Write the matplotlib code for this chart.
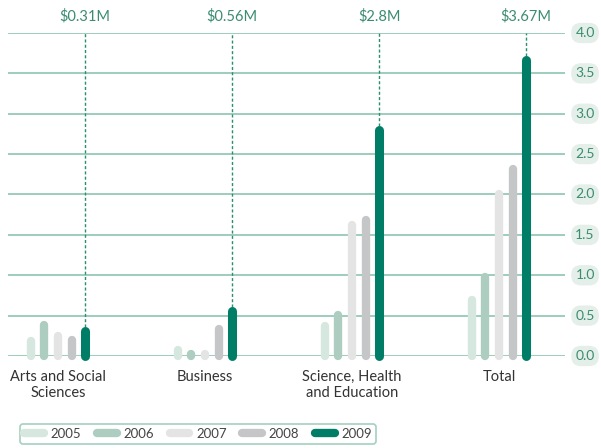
import numpy as np
import matplotlib
matplotlib.use("Agg")
import matplotlib.pyplot as plt
from matplotlib.lines import Line2D
from matplotlib import transforms

plt.rcParams['font.family'] = ['Lato', 'DejaVu Sans']

categories = ["Arts and Social\nSciences", "Business", "Science, Health\nand Education", "Total"]
years = ["2005", "2006", "2007", "2008", "2009"]
values = {
    "2005": [0.19, 0.07, 0.37, 0.69],
    "2006": [0.39, 0.02, 0.51, 0.98],
    "2007": [0.25, 0.03, 1.62, 2.00],
    "2008": [0.20, 0.34, 1.69, 2.31],
    "2009": [0.31, 0.56, 2.80, 3.67],
}
top_labels = ["$0.31M", "$0.56M", "$2.8M", "$3.67M"]
y_ticks = [0.0, 0.5, 1.0, 1.5, 2.0, 2.5, 3.0, 3.5, 4.0]

colors = ["#d5e7df", "#adcdc0", "#e3e4e3", "#c5c6c7", "#007d66"]
grid_col = "#8ec5b0"
green_txt = "#3b8c70"

fig = plt.figure(figsize=(6.01, 4.48), dpi=100)
ax = fig.add_axes([8 / 601, 92 / 448, 557 / 601, 323 / 448])
ax.set_xlim(-0.34, 3.449)
ax.set_ylim(0, 4.0)
ax.axis("off")

# grid lines and right-hand tick labels in pills
trans = transforms.blended_transform_factory(ax.transAxes, ax.transData)
for t in y_ticks:
    ax.axhline(t, color=grid_col, lw=1.2, zorder=1)
    ax.text(1.036, t, f"{t:.1f}", transform=trans, ha="center", va="center",
            fontsize=10, color=green_txt,
            bbox=dict(boxstyle="round,pad=0.3,rounding_size=0.7",
                      fc="#e4efea", ec="none"))

step = 0.0925
x = np.arange(len(categories))
for i, yr in enumerate(years):
    xs = x + (i - 2) * step
    lw = 6.5 if yr == "2009" else 6
    for xi, v in zip(xs, values[yr]):
        ax.plot([xi, xi], [0, v], color=colors[i], lw=lw,
                solid_capstyle="round", zorder=3, clip_on=False)

# dashed leaders and top labels for 2009
for xi, v, lab in zip(x + 2 * step, values["2009"], top_labels):
    ax.plot([xi, xi], [v + 0.05, 4.0], color="#2a8f72", lw=1,
            ls=(0, (2.2, 1.6)), zorder=2)
    ax.text(xi, 4.12, lab, ha="center", va="bottom", fontsize=10.5,
            color=green_txt)

for xi, cat in zip(x, categories):
    ax.text(xi, -0.17, cat, ha="center", va="top", fontsize=10.5,
            color="#333333", linespacing=1.25)

handles = [Line2D([0], [0], color=c, lw=6, solid_capstyle="round") for c in colors]
leg = fig.legend(handles, years, loc="lower left", bbox_to_anchor=(20 / 601, 4 / 448),
                 borderaxespad=0, ncol=5, frameon=True, fontsize=9.5,
                 handlelength=1.5, handletextpad=0.5, columnspacing=1.2,
                 borderpad=0.3, fancybox=True)
leg.get_frame().set_edgecolor(grid_col)
leg.get_frame().set_linewidth(1.2)
for txt in leg.get_texts():
    txt.set_color("#444444")

fig.savefig("out.png", dpi=100)
